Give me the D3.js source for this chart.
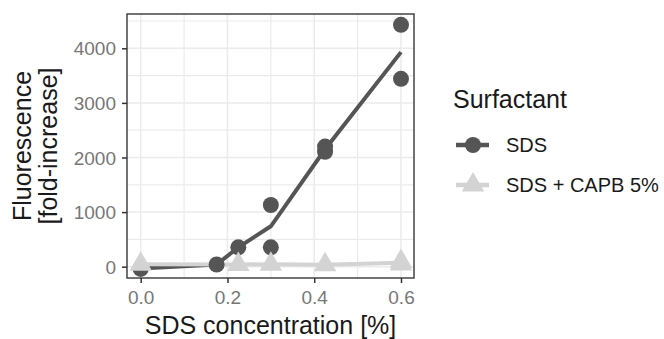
<!DOCTYPE html>
<html>
<head>
<meta charset="utf-8">
<script src="https://cdn.jsdelivr.net/npm/d3@7"></script>
<style>
  body { margin: 0; background: #fff; }
  svg { display: block; font-family: "Liberation Sans", Arial, sans-serif; }
</style>
</head>
<body>
<div id="chart"></div>
<script>
// data
const sdsX = [0, 0.175, 0.225, 0.3, 0.3, 0.425, 0.425, 0.6, 0.6];
const sdsY = [-40, 40, 355, 1130, 355, 2200, 2105, 4430, 3440];
const sdsLineX = [0, 0.175, 0.225, 0.3, 0.425, 0.6];
const sdsLineY = [-35, 40, 355, 740, 2150, 3930];
const capbX = [0, 0.225, 0.3, 0.425, 0.6, 0.6];
const capbY = [45, 40, 45, 35, 95, 50];
const capbLineX = [0, 0.225, 0.3, 0.425, 0.6];
const capbLineY = [45, 40, 45, 35, 72];
const xTicks = [0, 0.2, 0.4, 0.6];
const xMinor = [0.1, 0.3, 0.5];
const yTicks = [0, 1000, 2000, 3000, 4000];
const yMinor = [500, 1500, 2500, 3500, 4500];
const seriesNames = ['SDS', 'SDS + CAPB 5%'];

const W = 664, H = 339;
const panel = { left: 127, right: 414, top: 14, bottom: 278 };
const darkCol = '#555555', lightCol = '#d3d3d3';

const svg = d3.select('#chart').append('svg')
  .attr('width', W).attr('height', H);
svg.append('rect').attr('width', W).attr('height', H).attr('fill', '#fff');

const x = d3.scaleLinear().domain([-0.0316, 0.63]).range([panel.left, panel.right]);
const y = d3.scaleLinear().domain([-207, 4628]).range([panel.bottom, panel.top]);

// grid
const grid = svg.append('g');
grid.selectAll('.vmin').data(xMinor).enter().append('line')
  .attr('x1', d => x(d)).attr('x2', d => x(d))
  .attr('y1', panel.top).attr('y2', panel.bottom)
  .attr('stroke', '#ebebeb').attr('stroke-width', 1.2);
grid.selectAll('.hmin').data(yMinor).enter().append('line')
  .attr('y1', d => y(d)).attr('y2', d => y(d))
  .attr('x1', panel.left).attr('x2', panel.right)
  .attr('stroke', '#ebebeb').attr('stroke-width', 1.2);
grid.selectAll('.vmaj').data(xTicks).enter().append('line')
  .attr('x1', d => x(d)).attr('x2', d => x(d))
  .attr('y1', panel.top).attr('y2', panel.bottom)
  .attr('stroke', '#ebebeb').attr('stroke-width', 1.5);
grid.selectAll('.hmaj').data(yTicks).enter().append('line')
  .attr('y1', d => y(d)).attr('y2', d => y(d))
  .attr('x1', panel.left).attr('x2', panel.right)
  .attr('stroke', '#ebebeb').attr('stroke-width', 1.5);

// lines
const line = d3.line().x(d => x(d[0])).y(d => y(d[1]));
svg.append('path')
  .datum(d3.zip(sdsLineX, sdsLineY))
  .attr('d', line).attr('fill', 'none')
  .attr('stroke', darkCol).attr('stroke-width', 4);
svg.append('path')
  .datum(d3.zip(capbLineX, capbLineY))
  .attr('d', line).attr('fill', 'none')
  .attr('stroke', lightCol).attr('stroke-width', 4);

// points
const triR = 13;
function triangle(r) {
  const hw = r * Math.sqrt(3) / 2;
  return 'M0,' + (-r) + 'L' + hw + ',' + (r / 2) + 'L' + (-hw) + ',' + (r / 2) + 'Z';
}
svg.selectAll('.sds').data(d3.zip(sdsX, sdsY)).enter().append('circle')
  .attr('cx', d => x(d[0])).attr('cy', d => y(d[1])).attr('r', 8)
  .attr('fill', darkCol);
svg.selectAll('.capb').data(d3.zip(capbX, capbY)).enter().append('path')
  .attr('d', triangle(triR))
  .attr('transform', d => 'translate(' + x(d[0]) + ',' + y(d[1]) + ')')
  .attr('fill', lightCol);

// panel border
svg.append('rect')
  .attr('x', panel.left).attr('y', panel.top)
  .attr('width', panel.right - panel.left).attr('height', panel.bottom - panel.top)
  .attr('fill', 'none').attr('stroke', '#444').attr('stroke-width', 1.5);

// axes
const yAxis = svg.append('g')
  .attr('transform', 'translate(' + panel.left + ',0)')
  .call(d3.axisLeft(y).tickValues(yTicks).tickFormat(d3.format('d')).tickSize(5).tickPadding(6));
const xAxis = svg.append('g')
  .attr('transform', 'translate(0,' + panel.bottom + ')')
  .call(d3.axisBottom(x).tickValues(xTicks).tickFormat(d3.format('.1f')).tickSize(5).tickPadding(8));
[xAxis, yAxis].forEach(a => {
  a.select('.domain').remove();
  a.selectAll('.tick line').attr('stroke', '#333').attr('stroke-width', 1.5);
  a.selectAll('.tick text').attr('fill', '#777').attr('font-size', 19)
    .attr('font-family', '"Liberation Sans", Arial, sans-serif');
});
yAxis.selectAll('.tick text').attr('dy', '0.35em');

// axis titles
svg.append('text')
  .attr('x', (panel.left + panel.right) / 2).attr('y', 334)
  .attr('text-anchor', 'middle').attr('font-size', 25).attr('fill', '#1a1a1a')
  .text('SDS concentration [%]');
const yt = svg.append('text')
  .attr('transform', 'translate(0,' + ((panel.top + panel.bottom) / 2) + ') rotate(-90)')
  .attr('text-anchor', 'middle').attr('font-size', 25).attr('fill', '#1a1a1a');
yt.append('tspan').attr('x', 0).attr('y', 31).text('Fluorescence');
yt.append('tspan').attr('x', 0).attr('y', 57).text('[fold-increase]');

// legend
const legend = svg.append('g');
legend.append('text').attr('x', 453).attr('y', 108)
  .attr('font-size', 25).attr('fill', '#1a1a1a').text('Surfactant');
const keyY = [145, 185];
const keys = legend.selectAll('.key').data(seriesNames).enter().append('g')
  .attr('transform', (d, i) => 'translate(0,' + keyY[i] + ')');
keys.append('line').attr('x1', 456).attr('x2', 489).attr('y1', 0).attr('y2', 0)
  .attr('stroke', (d, i) => i === 0 ? darkCol : lightCol).attr('stroke-width', 4.5);
keys.filter((d, i) => i === 0).append('circle')
  .attr('cx', 473).attr('cy', 0).attr('r', 8).attr('fill', darkCol);
keys.filter((d, i) => i === 1).append('path')
  .attr('d', triangle(triR)).attr('transform', 'translate(473,0)').attr('fill', lightCol);
keys.append('text').attr('x', 506).attr('y', 7.2)
  .attr('font-size', 20).attr('fill', '#1a1a1a').text(d => d);
</script>
</body>
</html>
